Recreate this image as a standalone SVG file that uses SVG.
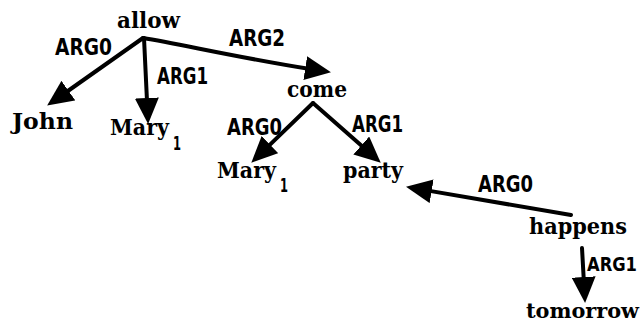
<svg xmlns="http://www.w3.org/2000/svg" width="644" height="323" viewBox="0 0 644 323">
<style>
.w{font-family:"DejaVu Serif","Liberation Serif",serif;font-weight:bold;font-size:23px;fill:#000}
.lab{font-family:"DejaVu Sans","Liberation Sans",sans-serif;font-weight:bold;font-size:23px;fill:#000}
.sub{font-family:"DejaVu Sans","Liberation Sans",sans-serif;font-weight:bold;font-size:20px;fill:#000}
.e{fill:none;stroke:#000;stroke-width:4;stroke-linecap:round;stroke-linejoin:round;marker-end:url(#ah)}
</style>
<defs>
<marker id="ah" markerUnits="userSpaceOnUse" viewBox="0 0 26 24" refX="5" refY="12" markerWidth="26" markerHeight="24" orient="auto">
<path d="M0,0 L26,12 L0,24 z" fill="#000"/>
</marker>
</defs>
<g id="connectors">
<path class="e" d="M143,38 L64.3,93.5"/>
<path class="e" d="M144,38 L147.1,103"/>
<path class="e" d="M143,38 C180,44 240,58 310.2,69"/>
<path class="e" d="M313,103 L266.4,148.1"/>
<path class="e" d="M313,103 L365,148.8"/>
<path class="e" d="M571,215 L426.7,190.4"/>
<path class="e" d="M582,248 L583.9,282"/>
<text class="lab" x="55" y="55" textLength="57" lengthAdjust="spacingAndGlyphs">ARG0</text>
<text class="lab" x="157" y="84" textLength="51" lengthAdjust="spacingAndGlyphs">ARG1</text>
<text class="lab" x="229" y="46" textLength="56" lengthAdjust="spacingAndGlyphs">ARG2</text>
<text class="lab" x="227" y="135" textLength="55" lengthAdjust="spacingAndGlyphs">ARG0</text>
<text class="lab" x="352" y="132" textLength="51" lengthAdjust="spacingAndGlyphs">ARG1</text>
<text class="lab" x="478" y="192" textLength="55" lengthAdjust="spacingAndGlyphs">ARG0</text>
<text class="lab" x="587" y="271" style="font-family:'DejaVu Sans Condensed','DejaVu Sans',sans-serif;font-size:19px" textLength="50" lengthAdjust="spacingAndGlyphs">ARG1</text>
</g>
<g id="allow"><text class="w" x="117" y="28" textLength="63" lengthAdjust="spacingAndGlyphs">allow</text></g>
<g id="john"><text class="w" x="12" y="129" textLength="61" lengthAdjust="spacingAndGlyphs">John</text></g>
<g id="mary1"><text class="w" x="110" y="135" textLength="59" lengthAdjust="spacingAndGlyphs">Mary</text><text class="sub" x="173" y="150" textLength="8" lengthAdjust="spacingAndGlyphs">1</text></g>
<g id="come"><text class="w" x="287" y="97" textLength="60" lengthAdjust="spacingAndGlyphs">come</text></g>
<g id="mary2"><text class="w" x="217" y="178" textLength="59" lengthAdjust="spacingAndGlyphs">Mary</text><text class="sub" x="280" y="192" textLength="8" lengthAdjust="spacingAndGlyphs">1</text></g>
<g id="party"><text class="w" x="343" y="178" textLength="60" lengthAdjust="spacingAndGlyphs">party</text></g>
<g id="happens"><text class="w" x="529" y="234" textLength="98" lengthAdjust="spacingAndGlyphs">happens</text></g>
<g id="tomorrow"><text class="w" x="526" y="318" style="font-size:21px" textLength="113" lengthAdjust="spacingAndGlyphs">tomorrow</text></g>
</svg>
